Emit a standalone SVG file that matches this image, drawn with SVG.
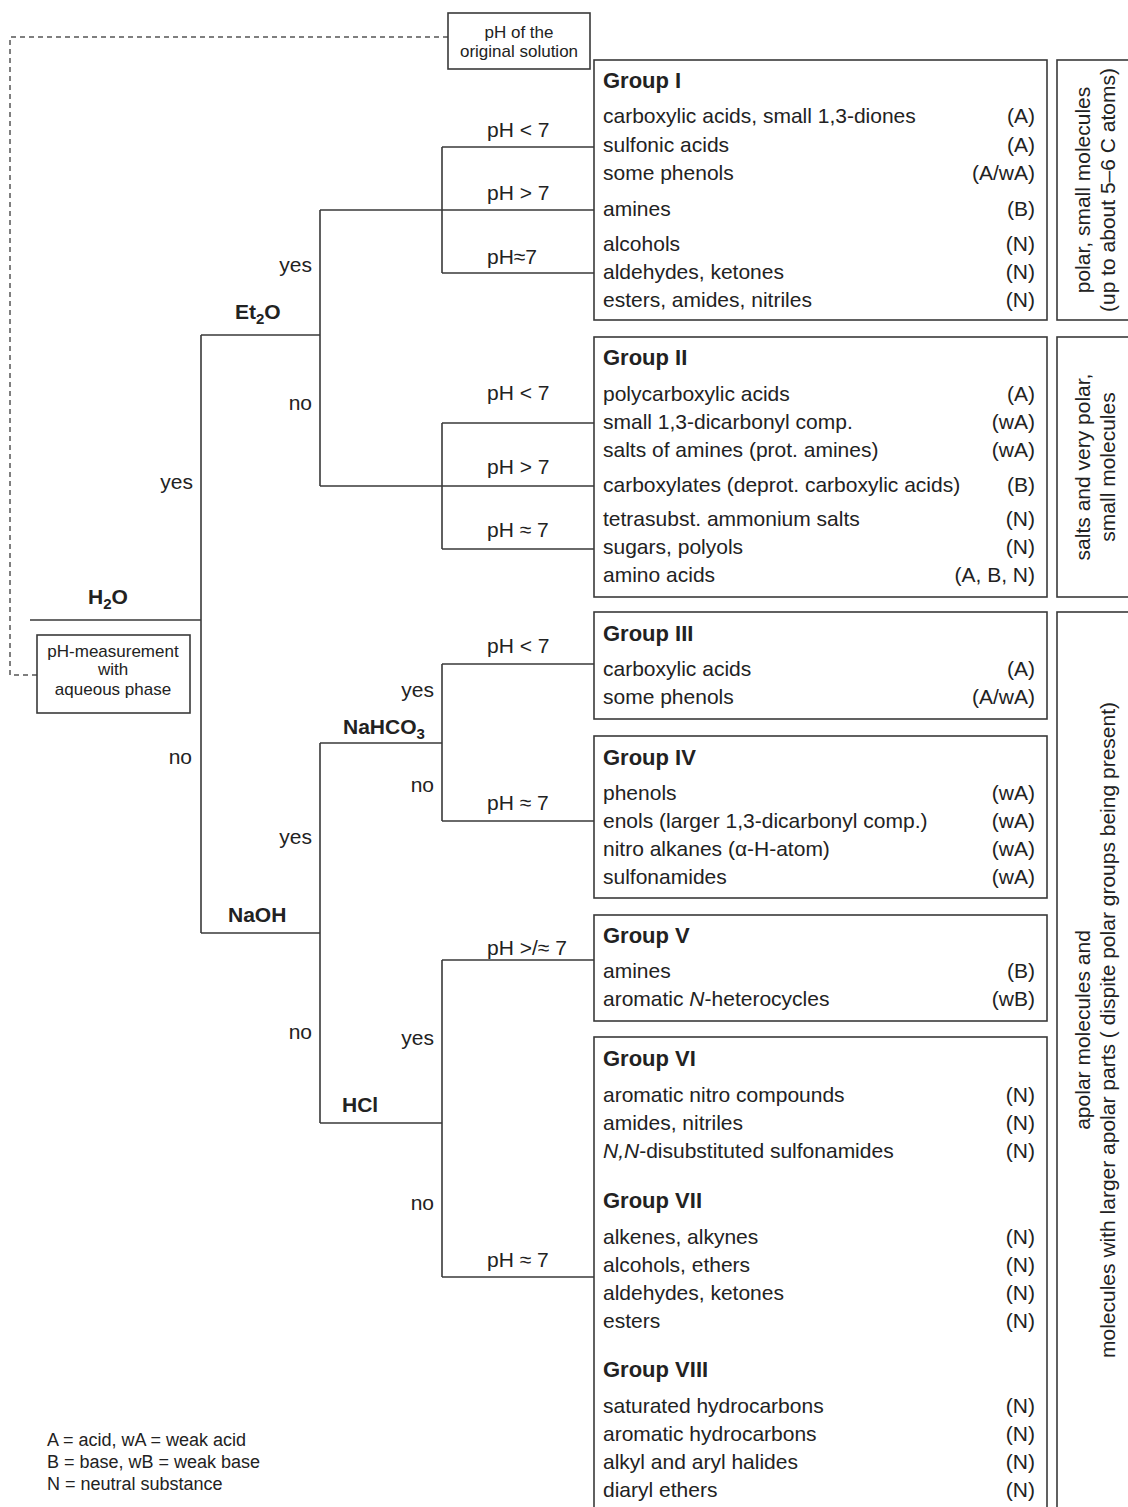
<svg xmlns="http://www.w3.org/2000/svg" width="1128" height="1507" viewBox="0 0 1128 1507">
<style>
text{font-family:"Liberation Sans",Arial,sans-serif;fill:#222;}
.t{font-size:21px;}
.r{font-size:21px;text-anchor:end;}
.h{font-size:22px;font-weight:bold;}
.c{font-size:21px;font-weight:bold;}
.s{font-size:17px;text-anchor:middle;}
.lg{font-size:18px;}
.rot{font-size:21px;text-anchor:middle;}
.box{fill:none;stroke:#3a3a3a;stroke-width:1.6;}
.ln{fill:none;stroke:#3a3a3a;stroke-width:1.6;}
.dash{fill:none;stroke:#555;stroke-width:1.5;stroke-dasharray:5 4;}
</style>
<rect width="1128" height="1507" fill="#fff"/>

<g id="connectors">
<path class="dash" d="M37,675 H10 V37 H448"/>
<path class="ln" d="M30,620 H201 M201,335 V933"/>
<path class="ln" d="M201,335 H320 M320,210 V486 M320,210 H594 M442,147 V273 M442,147 H594 M442,273 H594"/>
<path class="ln" d="M320,486 H594 M442,423 V549 M442,423 H594 M442,549 H594"/>
<path class="ln" d="M201,933 H320 M320,743 V1123 M320,743 H442 M442,664 V821 M442,664 H594 M442,821 H594"/>
<path class="ln" d="M320,1123 H442 M442,960 V1277 M442,960 H594 M442,1277 H594"/>
</g>

<g id="tree-labels">
<text class="r" x="193" y="489">yes</text>
<text class="r" x="192" y="764">no</text>
<text class="c" x="88" y="604">H<tspan font-size="15" dy="5">2</tspan><tspan dy="-5">O</tspan></text>
<text class="r" x="312" y="272">yes</text>
<text class="r" x="312" y="410">no</text>
<text class="c" x="235" y="319">Et<tspan font-size="15" dy="5">2</tspan><tspan dy="-5">O</tspan></text>
<text class="t" x="487" y="137">pH &lt; 7</text>
<text class="t" x="487" y="200">pH &gt; 7</text>
<text class="t" x="487" y="264">pH≈7</text>
<text class="t" x="487" y="400">pH &lt; 7</text>
<text class="t" x="487" y="474">pH &gt; 7</text>
<text class="t" x="487" y="537">pH ≈ 7</text>
<text class="r" x="434" y="697">yes</text>
<text class="c" x="343" y="734">NaHCO<tspan font-size="15" dy="5">3</tspan></text>
<text class="r" x="434" y="792">no</text>
<text class="t" x="487" y="653">pH &lt; 7</text>
<text class="t" x="487" y="810">pH ≈ 7</text>
<text class="r" x="312" y="844">yes</text>
<text class="c" x="228" y="922">NaOH</text>
<text class="r" x="312" y="1039">no</text>
<text class="r" x="434" y="1045">yes</text>
<text class="c" x="342" y="1112">HCl</text>
<text class="r" x="434" y="1210">no</text>
<text class="t" x="487" y="955">pH &gt;/≈ 7</text>
<text class="t" x="487" y="1267">pH ≈ 7</text>
</g>

<g id="ph-original">
<rect class="box" x="448" y="13" width="142" height="56"/>
<text class="s" x="519" y="38" font-size="18">pH of the</text>
<text class="s" x="519" y="57" font-size="18">original solution</text>
</g>

<g id="ph-measurement">
<rect class="box" x="37" y="635" width="153" height="78"/>
<text class="s" x="113" y="657">pH-measurement</text>
<text class="s" x="113" y="675">with</text>
<text class="s" x="113" y="695">aqueous phase</text>
</g>

<g id="group1">
<rect class="box" x="594" y="60" width="453" height="260"/>
<text class="h" x="603" y="88">Group I</text>
<text class="t" x="603" y="123">carboxylic acids, small 1,3-diones</text><text class="r" x="1035" y="123">(A)</text>
<text class="t" x="603" y="152">sulfonic acids</text><text class="r" x="1035" y="152">(A)</text>
<text class="t" x="603" y="180">some phenols</text><text class="r" x="1035" y="180">(A/wA)</text>
<text class="t" x="603" y="216">amines</text><text class="r" x="1035" y="216">(B)</text>
<text class="t" x="603" y="251">alcohols</text><text class="r" x="1035" y="251">(N)</text>
<text class="t" x="603" y="279">aldehydes, ketones</text><text class="r" x="1035" y="279">(N)</text>
<text class="t" x="603" y="307">esters, amides, nitriles</text><text class="r" x="1035" y="307">(N)</text>
</g>

<g id="group2">
<rect class="box" x="594" y="337" width="453" height="260"/>
<text class="h" x="603" y="365">Group II</text>
<text class="t" x="603" y="401">polycarboxylic acids</text><text class="r" x="1035" y="401">(A)</text>
<text class="t" x="603" y="429">small 1,3-dicarbonyl comp.</text><text class="r" x="1035" y="429">(wA)</text>
<text class="t" x="603" y="457">salts of amines (prot. amines)</text><text class="r" x="1035" y="457">(wA)</text>
<text class="t" x="603" y="492">carboxylates (deprot. carboxylic acids)</text><text class="r" x="1035" y="492">(B)</text>
<text class="t" x="603" y="526">tetrasubst. ammonium salts</text><text class="r" x="1035" y="526">(N)</text>
<text class="t" x="603" y="554">sugars, polyols</text><text class="r" x="1035" y="554">(N)</text>
<text class="t" x="603" y="582">amino acids</text><text class="r" x="1035" y="582">(A, B, N)</text>
</g>

<g id="group3">
<rect class="box" x="594" y="612" width="453" height="107"/>
<text class="h" x="603" y="641">Group III</text>
<text class="t" x="603" y="676">carboxylic acids</text><text class="r" x="1035" y="676">(A)</text>
<text class="t" x="603" y="704">some phenols</text><text class="r" x="1035" y="704">(A/wA)</text>
</g>

<g id="group4">
<rect class="box" x="594" y="736" width="453" height="162"/>
<text class="h" x="603" y="765">Group IV</text>
<text class="t" x="603" y="800">phenols</text><text class="r" x="1035" y="800">(wA)</text>
<text class="t" x="603" y="828">enols (larger 1,3-dicarbonyl comp.)</text><text class="r" x="1035" y="828">(wA)</text>
<text class="t" x="603" y="856">nitro alkanes (α-H-atom)</text><text class="r" x="1035" y="856">(wA)</text>
<text class="t" x="603" y="884">sulfonamides</text><text class="r" x="1035" y="884">(wA)</text>
</g>

<g id="group5">
<rect class="box" x="594" y="915" width="453" height="106"/>
<text class="h" x="603" y="943">Group V</text>
<text class="t" x="603" y="978">amines</text><text class="r" x="1035" y="978">(B)</text>
<text class="t" x="603" y="1006">aromatic <tspan font-style="italic">N</tspan>-heterocycles</text><text class="r" x="1035" y="1006">(wB)</text>
</g>

<g id="group6-8">
<rect class="box" x="594" y="1037" width="453" height="490"/>
<text class="h" x="603" y="1066">Group VI</text>
<text class="t" x="603" y="1102">aromatic nitro compounds</text><text class="r" x="1035" y="1102">(N)</text>
<text class="t" x="603" y="1130">amides, nitriles</text><text class="r" x="1035" y="1130">(N)</text>
<text class="t" x="603" y="1158"><tspan font-style="italic">N,N</tspan>-disubstituted sulfonamides</text><text class="r" x="1035" y="1158">(N)</text>
<text class="h" x="603" y="1208">Group VII</text>
<text class="t" x="603" y="1244">alkenes, alkynes</text><text class="r" x="1035" y="1244">(N)</text>
<text class="t" x="603" y="1272">alcohols, ethers</text><text class="r" x="1035" y="1272">(N)</text>
<text class="t" x="603" y="1300">aldehydes, ketones</text><text class="r" x="1035" y="1300">(N)</text>
<text class="t" x="603" y="1328">esters</text><text class="r" x="1035" y="1328">(N)</text>
<text class="h" x="603" y="1377">Group VIII</text>
<text class="t" x="603" y="1413">saturated hydrocarbons</text><text class="r" x="1035" y="1413">(N)</text>
<text class="t" x="603" y="1441">aromatic hydrocarbons</text><text class="r" x="1035" y="1441">(N)</text>
<text class="t" x="603" y="1469">alkyl and aryl halides</text><text class="r" x="1035" y="1469">(N)</text>
<text class="t" x="603" y="1497">diaryl ethers</text><text class="r" x="1035" y="1497">(N)</text>
</g>

<g id="label1">
<rect class="box" x="1057" y="60" width="100" height="260"/>
<text class="rot" transform="translate(1090,190) rotate(-90)">polar, small molecules</text>
<text class="rot" transform="translate(1115,190) rotate(-90)">(up to about 5–6 C atoms)</text>
</g>

<g id="label2">
<rect class="box" x="1057" y="337" width="100" height="260"/>
<text class="rot" transform="translate(1090,467) rotate(-90)">salts and very polar,</text>
<text class="rot" transform="translate(1115,467) rotate(-90)">small molecules</text>
</g>

<g id="label3">
<rect class="box" x="1057" y="612" width="100" height="920"/>
<text class="rot" transform="translate(1090,1030) rotate(-90)">apolar molecules and</text>
<text class="rot" transform="translate(1115,1030) rotate(-90)">molecules with larger apolar parts ( dispite polar groups being present)</text>
</g>

<g id="legend">
<text class="lg" x="47" y="1446">A = acid, wA = weak acid</text>
<text class="lg" x="47" y="1468">B = base, wB = weak base</text>
<text class="lg" x="47" y="1490">N = neutral substance</text>
</g>
</svg>
